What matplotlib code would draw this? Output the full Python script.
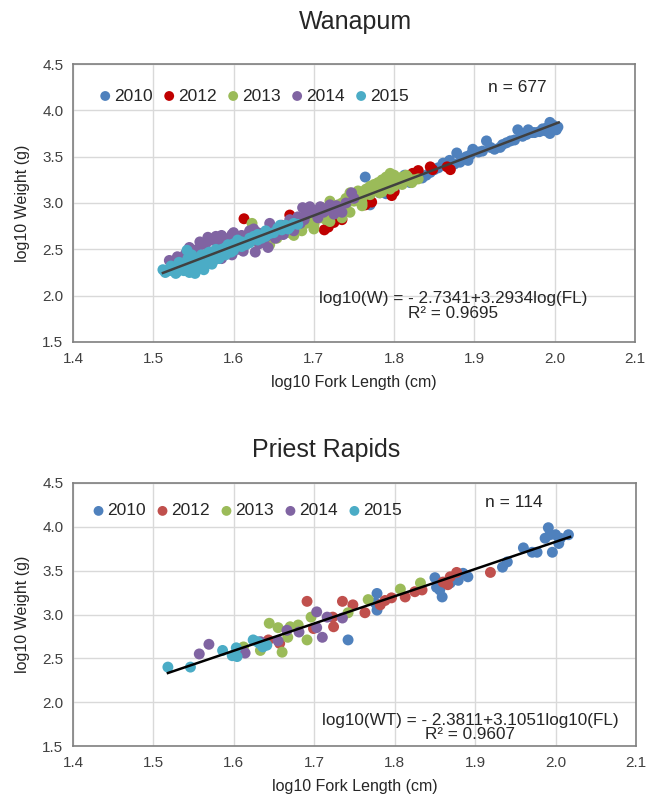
import matplotlib
matplotlib.use("Agg")
import matplotlib.pyplot as plt
import numpy as np

plt.rcParams['font.family'] = ['Liberation Sans', 'DejaVu Sans']

years = ['2010', '2012', '2013', '2014', '2015']

# ---------------- Wanapum data (log10 FL, log10 W) ----------------
wan_2010_x = [1.764, 1.77, 1.782, 1.79, 1.80, 1.813, 1.82, 1.835, 1.84, 1.85, 1.861, 1.869, 1.875,
              1.878, 1.882, 1.89, 1.892, 1.898, 1.905, 1.915, 1.92, 1.932, 1.94, 1.945, 1.954, 1.96,
              1.967, 1.975, 1.981, 1.988, 1.994, 1.994, 2.0, 2.004,
              1.845, 1.855, 1.865, 1.885, 1.895, 1.91, 1.925, 1.935, 1.95, 1.958, 1.965, 1.972,
              1.985, 1.998, 2.002, 1.99]
wan_2010_y = [3.28, 2.98, 3.11, 3.10, 3.14, 3.30, 3.22, 3.27, 3.30, 3.36, 3.43, 3.46, 3.42,
              3.54, 3.44, 3.50, 3.46, 3.58, 3.55, 3.67, 3.60, 3.60, 3.65, 3.67, 3.79, 3.72,
              3.79, 3.76, 3.77, 3.78, 3.87, 3.75, 3.80, 3.82,
              3.33, 3.38, 3.40, 3.48, 3.52, 3.56, 3.58, 3.63, 3.68, 3.75, 3.74, 3.76,
              3.80, 3.84, 3.79, 3.81]

wan_2012_x = [1.613, 1.67, 1.70, 1.713, 1.718, 1.725, 1.735, 1.764, 1.772, 1.797, 1.80, 1.823,
              1.828, 1.83, 1.845, 1.848, 1.866, 1.87]
wan_2012_y = [2.83, 2.87, 2.78, 2.71, 2.74, 2.79, 2.82, 2.98, 3.01, 3.08, 3.12, 3.32,
              3.28, 3.35, 3.39, 3.36, 3.39, 3.36]

wan_2013_x = [1.623, 1.63, 1.64, 1.645, 1.65, 1.654, 1.66, 1.665, 1.67, 1.674, 1.68, 1.685, 1.69,
              1.695, 1.70, 1.705, 1.708, 1.715, 1.72, 1.725, 1.73, 1.735, 1.74, 1.745, 1.75,
              1.755, 1.76, 1.765, 1.77, 1.775, 1.78, 1.785, 1.79, 1.795, 1.80, 1.805, 1.81,
              1.817, 1.822, 1.69, 1.72, 1.745, 1.76, 1.70, 1.735, 1.65, 1.80, 1.78, 1.782, 1.755,
              1.695, 1.71, 1.72, 1.73, 1.74, 1.75, 1.76, 1.765, 1.77, 1.775, 1.785, 1.79, 1.80,
              1.81, 1.815, 1.825, 1.83, 1.785, 1.795, 1.675, 1.685, 1.70, 1.715, 1.74, 1.76]
wan_2013_y = [2.78, 2.58, 2.62, 2.55, 2.70, 2.62, 2.66, 2.72, 2.68, 2.69, 2.76, 2.80, 2.78,
              2.86, 2.80, 2.90, 2.84, 2.92, 2.88, 2.96, 2.93, 3.00, 2.97, 3.11, 3.02,
              3.08, 3.05, 3.12, 3.09, 3.16, 3.14, 3.20, 3.22, 3.32, 3.18, 3.24, 3.20,
              3.28, 3.22, 2.93, 3.02, 2.90, 2.97, 2.72, 2.84, 2.72, 3.27, 3.22, 3.11, 3.13,
              2.92, 2.95, 2.80, 2.98, 3.05, 3.08, 3.12, 3.15, 3.18, 3.20, 3.25, 3.28, 3.30,
              3.28, 3.30, 3.25, 3.26, 3.12, 3.15, 2.65, 2.70, 2.76, 2.82, 2.92, 3.00]

wan_2014_x = [1.52, 1.53, 1.535, 1.54, 1.55, 1.555, 1.56, 1.565, 1.568, 1.575, 1.58, 1.585, 1.59,
              1.595, 1.60, 1.605, 1.61, 1.615, 1.62, 1.627, 1.63, 1.635, 1.64, 1.643, 1.645,
              1.65, 1.655, 1.66, 1.666, 1.67, 1.675, 1.68, 1.683, 1.686, 1.69, 1.695, 1.70,
              1.705, 1.708, 1.715, 1.72, 1.725, 1.73, 1.735, 1.74, 1.747, 1.75,
              1.525, 1.545, 1.558, 1.572, 1.578, 1.588, 1.598, 1.608, 1.618, 1.625, 1.585,
              1.598, 1.612, 1.632, 1.652, 1.662, 1.672, 1.688, 1.712, 1.728]
wan_2014_y = [2.38, 2.42, 2.30, 2.45, 2.40, 2.50, 2.35, 2.55, 2.63, 2.38, 2.58, 2.65, 2.45,
              2.62, 2.68, 2.50, 2.65, 2.55, 2.70, 2.47, 2.68, 2.58, 2.63, 2.52, 2.78,
              2.70, 2.65, 2.76, 2.74, 2.82, 2.70, 2.85, 2.78, 2.95, 2.88, 2.96, 2.90,
              2.84, 2.96, 2.92, 2.98, 2.88, 2.93, 2.90, 3.00, 3.11, 3.05,
              2.35, 2.52, 2.58, 2.60, 2.64, 2.62, 2.66, 2.62, 2.66, 2.72, 2.40,
              2.44, 2.48, 2.56, 2.62, 2.66, 2.76, 2.82, 2.90, 2.97]

wan_2015_x = [1.512, 1.52, 1.525, 1.53, 1.535, 1.54, 1.542, 1.545, 1.55, 1.552, 1.555, 1.56,
              1.56, 1.565, 1.57, 1.57, 1.575, 1.58, 1.585, 1.59, 1.59, 1.60, 1.60, 1.61, 1.61,
              1.62, 1.62, 1.63, 1.63, 1.64, 1.64, 1.65, 1.655, 1.66, 1.665, 1.67, 1.675, 1.68,
              1.515, 1.522, 1.528, 1.532, 1.538, 1.543, 1.548, 1.553, 1.558, 1.563, 1.568,
              1.573, 1.578, 1.582, 1.588, 1.593, 1.597, 1.605, 1.615, 1.625, 1.635, 1.645,
              1.658, 1.668]
wan_2015_y = [2.28, 2.27, 2.30, 2.26, 2.33, 2.30, 2.49, 2.25, 2.34, 2.24, 2.40, 2.30,
              2.44, 2.33, 2.42, 2.47, 2.38, 2.45, 2.50, 2.44, 2.52, 2.49, 2.56, 2.53, 2.58,
              2.57, 2.62, 2.60, 2.66, 2.64, 2.70, 2.68, 2.73, 2.71, 2.76, 2.74, 2.78, 2.77,
              2.25, 2.32, 2.24, 2.36, 2.27, 2.40, 2.44, 2.27, 2.36, 2.28, 2.46,
              2.34, 2.50, 2.40, 2.46, 2.55, 2.47, 2.60, 2.55, 2.64, 2.62, 2.67,
              2.76, 2.72]

# ---------------- Priest Rapids data ----------------
pr_2010_x = [1.742, 1.776, 1.778, 1.778, 1.850, 1.852, 1.856, 1.859, 1.869, 1.879, 1.885, 1.891,
             1.934, 1.940, 1.960, 1.971, 1.977, 1.987, 1.991, 1.993, 2.0, 1.996, 2.004, 2.006,
             2.016]
pr_2010_y = [2.71, 3.13, 3.05, 3.24, 3.42, 3.31, 3.28, 3.20, 3.36, 3.39, 3.47, 3.43,
             3.54, 3.60, 3.76, 3.71, 3.71, 3.87, 3.99, 3.91, 3.91, 3.71, 3.81, 3.87,
             3.91]

pr_2012_x = [1.643, 1.657, 1.691, 1.699, 1.723, 1.724, 1.735, 1.748, 1.763, 1.782, 1.788, 1.796,
             1.813, 1.825, 1.834, 1.860, 1.866, 1.869, 1.877, 1.919]
pr_2012_y = [2.71, 2.67, 3.15, 2.84, 2.97, 2.86, 3.15, 3.11, 3.02, 3.11, 3.16, 3.19,
             3.20, 3.26, 3.28, 3.37, 3.34, 3.43, 3.48, 3.48]

pr_2013_x = [1.612, 1.633, 1.644, 1.655, 1.660, 1.667, 1.670, 1.680, 1.691, 1.696, 1.742,
             1.767, 1.807, 1.832]
pr_2013_y = [2.63, 2.59, 2.90, 2.85, 2.57, 2.74, 2.86, 2.88, 2.71, 2.97, 3.02,
             3.17, 3.29, 3.36]

pr_2014_x = [1.557, 1.569, 1.614, 1.633, 1.655, 1.666, 1.681, 1.703, 1.703, 1.710, 1.716, 1.735]
pr_2014_y = [2.55, 2.66, 2.56, 2.69, 2.70, 2.82, 2.80, 3.03, 2.85, 2.74, 2.97, 2.96]

pr_2015_x = [1.518, 1.546, 1.586, 1.598, 1.603, 1.604, 1.624, 1.629, 1.632, 1.636, 1.641]
pr_2015_y = [2.40, 2.40, 2.59, 2.53, 2.62, 2.52, 2.71, 2.69, 2.67, 2.63, 2.65]

wan_series = [(wan_2010_x, wan_2010_y), (wan_2012_x, wan_2012_y), (wan_2013_x, wan_2013_y),
              (wan_2014_x, wan_2014_y), (wan_2015_x, wan_2015_y)]
pr_series = [(pr_2010_x, pr_2010_y), (pr_2012_x, pr_2012_y), (pr_2013_x, pr_2013_y),
             (pr_2014_x, pr_2014_y), (pr_2015_x, pr_2015_y)]

wan_colors = ['#4F81BD', '#C00000', '#9BBB59', '#8064A2', '#4BACC6']
pr_colors = ['#4F81BD', '#C0504D', '#9BBB59', '#8064A2', '#4BACC6']

wan_fit = (-2.7341, 3.2934, 1.512, 2.005)
pr_fit = (-2.3811, 3.1051, 1.518, 2.018)

xticks = [1.4, 1.5, 1.6, 1.7, 1.8, 1.9, 2.0, 2.1]
yticks = [1.5, 2.0, 2.5, 3.0, 3.5, 4.0, 4.5]

W, H = 647, 808
fig = plt.figure(figsize=(W / 100, H / 100), dpi=100)
ax1 = fig.add_axes([73 / W, 1 - 342 / H, (635 - 73) / W, (342 - 64) / H])
ax2 = fig.add_axes([73 / W, 1 - 746 / H, (636 - 73) / W, (746 - 483) / H])


def draw(ax, series, colors, fit, line_color, ntext, eqtext, n_pos, eq_pos, leg_anchor):
    for (x, y), c, lab in zip(series, colors, years):
        ax.scatter(x, y, s=62, color=c, edgecolors='none', label=lab, zorder=3)
    a, b, x0, x1 = fit
    xs = np.array([x0, x1])
    ax.plot(xs, a + b * xs, color=line_color, lw=1.8, zorder=4)
    ax.set_xlim(1.4, 2.1)
    ax.set_ylim(1.5, 4.5)
    ax.set_xticks(xticks)
    ax.set_yticks(yticks)
    ax.set_xticklabels([f'{t:.1f}' for t in xticks])
    ax.set_yticklabels([f'{t:.1f}' for t in yticks])
    ax.tick_params(length=0, labelsize=11, colors='#404040', pad=7)
    ax.grid(True, color='#D9D9D9', lw=1)
    ax.set_axisbelow(True)
    for sp in ax.spines.values():
        sp.set_color('#7F7F7F')
        sp.set_linewidth(1.2)
    ax.set_xlabel('log10 Fork Length (cm)', fontsize=11.5, color='#262626', labelpad=7)
    ax.set_ylabel('log10 Weight (g)', fontsize=11.5, color='#262626', labelpad=9)
    ax.text(n_pos[0], n_pos[1], ntext, fontsize=12.5, ha='center', va='center', color='#262626')
    ax.text(eq_pos[0], eq_pos[1], eqtext, fontsize=12.3, ha='center', va='center',
            color='#262626', linespacing=0.95)
    leg = ax.legend(loc='center left', bbox_to_anchor=leg_anchor, ncol=5, frameon=False,
                    fontsize=12.5, handlelength=0.8, handletextpad=0.1, columnspacing=0.56,
                    markerscale=0.9, borderaxespad=0, borderpad=0)
    for t in leg.get_texts():
        t.set_color('#262626')


draw(ax1, wan_series, wan_colors, wan_fit, '#404040', 'n = 677',
     'log10(W) = - 2.7341+3.2934log(FL)\nR² = 0.9695', (1.953, 4.25), (1.873, 1.89),
     (0.045, 0.885))
draw(ax2, pr_series, pr_colors, pr_fit, 'black', 'n = 114',
     'log10(WT) = - 2.3811+3.1051log10(FL)\nR² = 0.9607', (1.948, 4.28), (1.894, 1.71),
     (0.033, 0.894))

fig.text(355 / W, 1 - 22 / H, 'Wanapum', fontsize=18, ha='center', va='center', color='#262626')
fig.text(326 / W, 1 - 450 / H, 'Priest Rapids', fontsize=18, ha='center', va='center',
         color='#262626')

fig.savefig('out.png', dpi=100)
